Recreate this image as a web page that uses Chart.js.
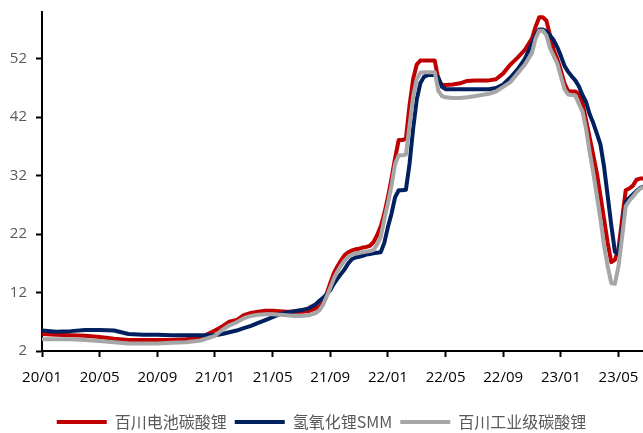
<!DOCTYPE html>
<html>
<head>
<meta charset="utf-8">
<script src="https://cdn.jsdelivr.net/npm/chart.js@4/dist/chart.umd.min.js"></script>
<style>
  html, body { margin: 0; padding: 0; background: #fff; }
  #wrap { width: 643px; height: 433px; }
</style>
</head>
<body>
<div id="wrap"><canvas id="c" width="643" height="433"></canvas></div>
<script>
// Time position of each observation, in months since Jan 2020
const months = [
  0, 1, 2, 3, 4, 5, 6, 7, 8, 9, 10, 11, 12,
  12.5, 13, 13.5, 14, 14.5, 15, 15.5, 16, 16.5, 17, 17.5, 18, 18.5, 19,
  19.25, 19.5, 19.75, 20, 20.25, 20.5, 20.75, 21, 21.25, 21.5, 21.75, 22,
  22.25, 22.5, 22.75, 23, 23.25, 23.5, 23.75, 24, 24.25, 24.5, 24.75, 25,
  25.25, 25.5, 25.75, 26, 26.25, 26.5, 26.75, 27, 27.25, 27.5, 27.75, 28,
  28.5, 29, 29.5, 30, 30.5, 31, 31.5, 32, 32.5, 33, 33.5, 34,
  34.25, 34.5, 34.75, 35, 35.25, 35.5, 35.75, 36, 36.25, 36.5, 36.75, 37,
  37.25, 37.5, 37.75, 38, 38.25, 38.5, 38.75, 39, 39.25, 39.5, 39.75, 40,
  40.25, 40.5, 40.75, 41, 41.25, 41.5, 41.7
];

// 百川电池碳酸锂 (万元/吨)
const batteryCarbonate = [
  4.9, 4.8, 4.7, 4.6, 4.4, 4.1, 3.9, 3.9, 3.9, 3.9, 4.0, 4.3, 5.5,
  6.2, 7.0, 7.3, 8.15, 8.5, 8.7, 8.9, 8.9, 8.8, 8.7, 8.7, 8.7, 8.8, 9.3,
  9.6, 10.4, 11.8, 13.6, 15.3, 16.5, 17.5, 18.4, 18.9, 19.2, 19.4, 19.5,
  19.7, 19.8, 20.0, 20.6, 21.8, 23.3, 25.5, 28.3, 31.5, 35.0, 38.1, 38.1,
  38.3, 44.0, 48.5, 51.0, 51.7, 51.7, 51.7, 51.7, 51.7, 48.5, 47.5, 47.5,
  47.6, 47.8, 48.2, 48.3, 48.3, 48.3, 48.5, 49.5, 51.0, 52.2, 53.5, 55.5,
  57.5, 59.1, 59.1, 58.5, 56.0, 53.5, 52.0, 50.0, 47.8, 46.5, 46.4, 46.4,
  46.0, 44.5, 41.5, 38.5, 35.5, 32.4, 28.5, 24.5, 20.5, 17.2, 17.6, 19.5,
  24.5, 29.5, 29.8, 30.3, 31.3, 31.5, 31.5
];

// 氢氧化锂SMM (万元/吨)
const lithiumHydroxide = [
  5.5, 5.3, 5.4, 5.6, 5.6, 5.5, 4.9, 4.8, 4.8, 4.7, 4.7, 4.7, 4.7,
  4.9, 5.2, 5.5, 5.9, 6.3, 6.8, 7.3, 7.8, 8.3, 8.6, 8.8, 9.0, 9.3, 10.0,
  10.6, 11.1, 11.7, 12.4, 13.5, 14.4, 15.2, 16.0, 17.0, 17.7, 18.0, 18.1,
  18.3, 18.5, 18.6, 18.7, 18.8, 18.9, 20.5, 23.2, 25.5, 28.3, 29.5, 29.5,
  29.6, 34.0, 40.0, 45.0, 47.8, 48.9, 49.2, 49.2, 49.2, 48.8, 47.2, 46.8,
  46.8, 46.8, 46.8, 46.8, 46.8, 46.8, 47.0, 47.6, 48.8, 50.2, 52.0, 54.6,
  56.0, 57.0, 57.0, 56.7, 56.0, 55.2, 54.0, 52.5, 50.8, 49.8, 49.0, 48.3,
  47.3, 45.8, 44.6, 42.5, 41.0, 39.2, 37.3, 33.5, 28.5, 23.5, 19.0, 18.5,
  22.5, 27.5, 28.2, 28.8, 29.4, 29.9, 30.1
];

// 百川工业级碳酸锂 (万元/吨)
const industrialCarbonate = [
  4.0, 4.0, 4.0, 3.9, 3.7, 3.5, 3.3, 3.3, 3.3, 3.4, 3.5, 3.8, 4.6,
  5.6, 6.4, 6.9, 7.6, 8.0, 8.2, 8.3, 8.3, 8.2, 8.1, 8.0, 8.0, 8.1, 8.5,
  9.0, 9.9, 11.3, 12.8, 14.4, 15.6, 16.6, 17.5, 18.1, 18.5, 18.7, 18.8,
  18.9, 19.0, 19.1, 19.3, 20.2, 21.5, 24.5, 27.3, 30.3, 34.0, 35.5, 35.5,
  35.6, 40.5, 45.5, 48.5, 49.6, 49.7, 49.7, 49.7, 49.7, 46.5, 45.6, 45.4,
  45.3, 45.3, 45.4, 45.6, 45.8, 46.0, 46.4, 47.2, 48.0, 49.5, 51.0, 53.0,
  55.5, 56.8, 56.8, 56.0, 53.8, 52.5, 51.2, 49.0, 46.8, 45.9, 45.8, 45.7,
  44.3, 43.0, 40.0, 36.0, 32.5, 28.5, 24.5, 20.0, 16.5, 13.6, 13.5, 16.5,
  21.5, 26.8, 27.7, 28.4, 29.2, 29.8, 30.0
];

const seriesNames = ['百川电池碳酸锂', '氢氧化锂SMM', '百川工业级碳酸锂'];
const seriesColors = ['#C00000', '#002060', '#A6A6A6'];

// Axis labels: one x label every four months, starting Jan 2020
const xTickLabels = ['20/01', '20/05', '20/09', '21/01', '21/05', '21/09',
                     '22/01', '22/05', '22/09', '23/01', '23/05'];
const xTickMonths = [0, 4, 8, 12, 16, 20, 24, 28, 32, 36, 40];
const yTickValues = [2, 12, 22, 32, 42, 52];

const toPoints = vals => months.map((m, i) => ({ x: m, y: vals[i] }));

const tickFont = { family: "'Open Sans', 'Noto Sans', sans-serif", size: 15 };

const makeDataset = (idx, vals, order) => ({
  label: seriesNames[idx],
  data: toPoints(vals),
  borderColor: seriesColors[idx],
  backgroundColor: seriesColors[idx],
  borderWidth: 4,
  pointRadius: 0,
  tension: 0,
  borderJoinStyle: 'round',
  borderCapStyle: 'round',
  order: order
});

new Chart(document.getElementById('c'), {
  type: 'line',
  data: {
    datasets: [
      makeDataset(0, batteryCarbonate, 2),
      makeDataset(1, lithiumHydroxide, 1),
      makeDataset(2, industrialCarbonate, 0)
    ]
  },
  options: {
    responsive: false,
    devicePixelRatio: 1,
    animation: false,
    layout: { padding: { top: 12, left: 0, right: 0, bottom: -7 } },
    scales: {
      x: {
        type: 'linear',
        min: 0,
        max: 41.7,
        afterBuildTicks: s => { s.ticks = xTickMonths.map(v => ({ value: v })); },
        afterFit: s => { s.height = 55; s.paddingLeft = 0; s.paddingRight = 0; },
        ticks: {
          callback: (v, i) => xTickLabels[i],
          autoSkip: false,
          maxRotation: 0,
          color: '#000',
          font: tickFont,
          padding: 12
        },
        grid: {
          drawOnChartArea: false,
          drawTicks: true,
          tickLength: 6,
          tickWidth: 2,
          tickColor: '#000'
        },
        border: { display: true, color: '#000', width: 2 }
      },
      y: {
        type: 'linear',
        min: 2,
        max: 60,
        afterBuildTicks: s => { s.ticks = yTickValues.map(v => ({ value: v })); },
        afterFit: s => { s.width = 42; s.paddingTop = 0; s.paddingBottom = 0; },
        ticks: {
          color: '#595959',
          font: tickFont,
          padding: 9
        },
        grid: {
          drawOnChartArea: false,
          drawTicks: true,
          tickLength: 6,
          tickWidth: 2,
          tickColor: '#000'
        },
        border: { display: true, color: '#000', width: 2 }
      }
    },
    plugins: {
      tooltip: { enabled: false },
      legend: {
        position: 'bottom',
        labels: {
          boxWidth: 50,
          boxHeight: 4,
          padding: 8,
          color: '#595959',
          font: { family: "'Noto Sans CJK SC', sans-serif", size: 16 },
          sort: (a, b) => a.datasetIndex - b.datasetIndex,
          generateLabels: chart =>
            Chart.defaults.plugins.legend.labels.generateLabels(chart)
              .map(l => ({ ...l, fillStyle: l.strokeStyle, lineWidth: 0 }))
        }
      }
    }
  }
});
</script>
</body>
</html>
